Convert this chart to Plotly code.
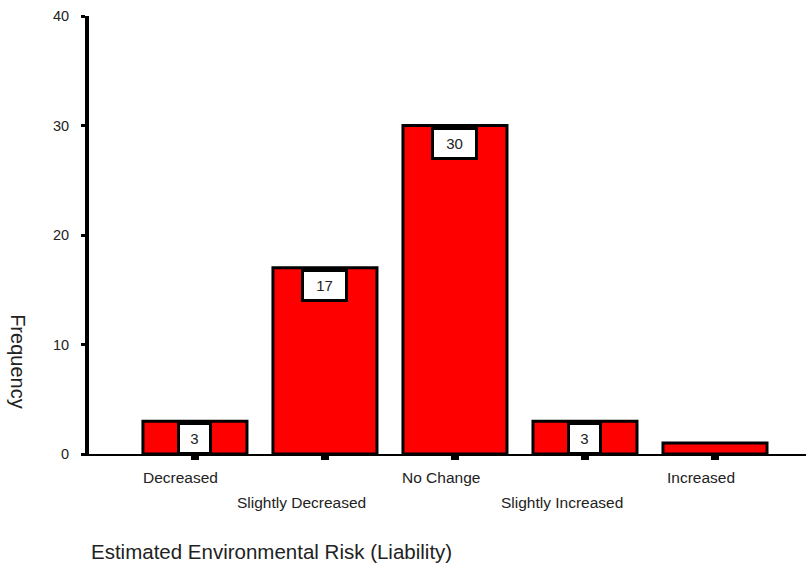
import plotly.graph_objects as go

categories = ["Decreased", "Slightly Decreased", "No Change", "Slightly Increased", "Increased"]
frequency = [3, 17, 30, 3, 1]
value_labels = ["3", "17", "30", "3", ""]
y_ticks = [0, 10, 20, 30, 40]

FONT = "Liberation Sans, Arial, sans-serif"
positions = list(range(len(categories)))

fig = go.Figure(
    go.Bar(
        x=positions,
        y=frequency,
        width=0.8,
        marker=dict(color="#FF0000", line=dict(color="black", width=3)),
        hoverinfo="skip",
    )
)

annotations = []
# value boxes at the top of each bar
for xi, yv, lab in zip(positions, frequency, value_labels):
    if not lab:
        continue
    annotations.append(dict(
        x=xi, y=yv, xref="x", yref="y", text=lab, showarrow=False,
        yanchor="top", xanchor="center", yshift=-1,
        font=dict(family=FONT, size=15, color="#222"),
        bgcolor="white", bordercolor="black", borderwidth=3, borderpad=5,
        width=19 if len(lab) == 1 else 31,
    ))

# category labels, staggered on two rows
for i, name in enumerate(categories):
    upper = i % 2 == 0
    annotations.append(dict(
        x=i, y=0, xref="x", yref="paper", text=name, showarrow=False,
        yanchor="top", xanchor="center",
        yshift=-13 if upper else -38, xshift=-14 if upper else -23,
        font=dict(family=FONT, size=15.5, color="#222"),
    ))

annotations.append(dict(
    x=0, y=0, xref="paper", yref="paper", text="Estimated Environmental Risk (Liability)",
    showarrow=False, xanchor="left", yanchor="middle", xshift=0, yshift=-97,
    font=dict(family=FONT, size=20.5, color="#222"),
))
annotations.append(dict(
    x=0, y=0.212, xref="paper", yref="paper", text="Frequency",
    showarrow=False, xanchor="center", yanchor="middle", xshift=-71, textangle=90,
    font=dict(family=FONT, size=20, color="#222"),
))

fig.update_layout(
    width=806, height=564,
    margin=dict(l=89, r=0, t=16, b=110),
    paper_bgcolor="white", plot_bgcolor="white",
    showlegend=False,
    annotations=annotations,
    xaxis=dict(
        range=[-0.815, 4.7], tickvals=positions, ticktext=[""] * len(positions),
        ticks="outside", ticklen=4, tickwidth=8, tickcolor="black",
        showline=True, linecolor="black", linewidth=2,
        showgrid=False, zeroline=False, fixedrange=True,
    ),
    yaxis=dict(
        range=[0, 40], tickvals=y_ticks,
        ticks="outside", ticklen=4, tickwidth=3, tickcolor="black",
        showline=True, linecolor="black", linewidth=4,
        showgrid=False, zeroline=False,
        ticklabelstandoff=9,
        tickfont=dict(family=FONT, size=14.5, color="#222"),
    ),
)

fig.write_html("out.html")
